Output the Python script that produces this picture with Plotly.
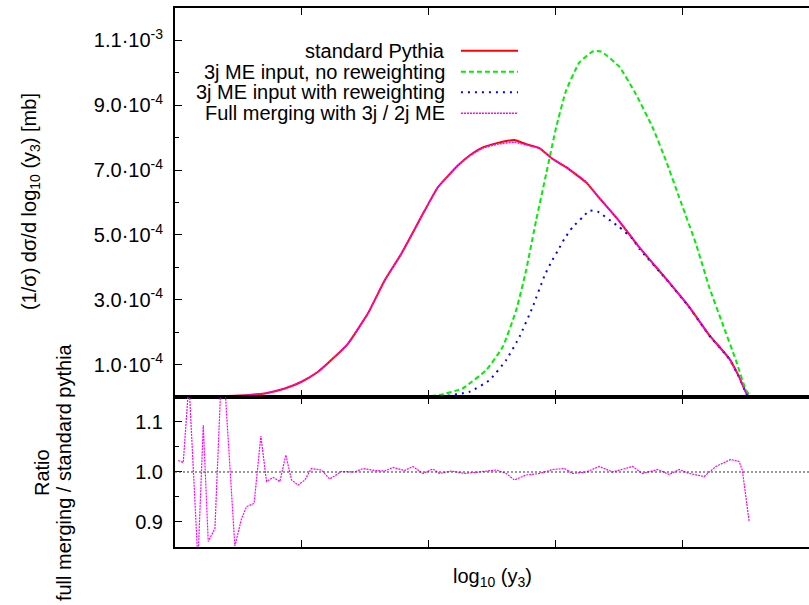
import numpy as np
import plotly.graph_objects as go
from plotly.subplots import make_subplots

# log10(y3) positions and differential cross sections (in units of 1e-4 mb)
red_x = [-5.0, -4.80, -4.528, -4.291, -4.134, -4.002, -3.872, -3.740, -3.635, -3.478,
         -3.346, -3.215, -3.031, -2.927, -2.769, -2.677, -2.572, -2.454, -2.323, -2.231,
         -2.126, -2.021, -1.916, -1.758, -1.654, -1.496, -1.339, -1.128, -0.945, -0.787,
         -0.630, -0.551, -0.486, -0.433, 0.0]
red_y = [0, 0.01, 0.04, 0.11, 0.26, 0.47, 0.78, 1.24, 1.65, 2.58,
         3.60, 4.42, 5.75, 6.47, 7.14, 7.45, 7.70, 7.84, 7.93, 7.80,
         7.68, 7.34, 7.09, 6.62, 6.14, 5.42, 4.62, 3.65, 2.78, 1.91,
         1.19, 0.62, 0.06, 0, 0]

merge_y = [0, 0.01, 0.04, 0.11, 0.26, 0.47, 0.78, 1.24, 1.65, 2.58,
           3.60, 4.42, 5.75, 6.47, 7.14, 7.44, 7.68, 7.80, 7.86, 7.78,
           7.67, 7.34, 7.10, 6.64, 6.15, 5.43, 4.62, 3.65, 2.78, 1.91,
           1.19, 0.62, 0.06, 0, 0]

green_x = [-5.0, -3.386, -3.071, -2.913, -2.730, -2.546, -2.415, -2.309, -2.231, -2.152,
           -2.073, -1.994, -1.916, -1.811, -1.706, -1.640, -1.496, -1.365, -1.234, -1.128,
           -1.024, -0.892, -0.787, -0.683, -0.577, -0.498, -0.459, -0.394, 0.0]
green_y = [0, 0, 0.0, 0.06, 0.27, 0.83, 1.55, 2.68, 3.91, 5.45,
           6.88, 8.32, 9.45, 10.32, 10.66, 10.66, 10.19, 9.34, 8.32, 7.29,
           6.16, 4.73, 3.39, 2.27, 1.14, 0.22, 0.03, 0, 0]

blue_x = [-5.0, -3.071, -2.913, -2.677, -2.520, -2.388, -2.283, -2.179, -2.085, -2.033,
          -1.980, -1.929, -1.864, -1.785, -1.732, -1.667, -1.549, -1.496, -1.391, -1.339,
          -1.128, -0.945, -0.787, -0.630, -0.551, -0.486, -0.433, 0.0]
blue_y = [0, 0, 0.01, 0.16, 0.52, 1.14, 1.86, 2.78, 3.75, 4.16,
          4.52, 4.88, 5.24, 5.55, 5.75, 5.72, 5.39, 5.24, 4.88, 4.58,
          3.64, 2.77, 1.90, 1.18, 0.61, 0.05, 0, 0]

# ratio full merging / standard pythia
ratio_x = [-4.974, -4.935, -4.890, -4.819, -4.777, -4.738, -4.685, -4.626, -4.528, -4.475,
           -4.435, -4.376, -4.323, -4.278, -4.226, -4.173, -4.126, -4.081, -4.029, -3.976,
           -3.924, -3.845, -3.780, -3.687, -3.583, -3.517, -3.425, -3.346, -3.281, -3.189,
           -3.124, -3.045, -2.966, -2.913, -2.821, -2.717, -2.638, -2.467, -2.388, -2.323,
           -2.231, -2.126, -2.021, -1.929, -1.864, -1.758, -1.654, -1.549, -1.391, -1.313,
           -1.194, -1.102, -1.024, -0.945, -0.827, -0.735, -0.617, -0.551, -0.526, -0.472]
ratio_y = [1.023, 1.019, 1.18, 0.82, 1.094, 0.861, 0.887, 1.25, 0.852, 0.907,
           0.931, 0.937, 1.072, 0.981, 0.989, 0.981, 1.034, 0.984, 0.974, 0.984,
           1.007, 1.004, 0.986, 1.001, 1.000, 1.007, 1.003, 1.002, 1.009, 1.003,
           1.011, 0.997, 1.006, 0.997, 1.002, 0.997, 0.999, 1.004, 0.997, 0.984,
           0.994, 0.997, 1.005, 1.007, 0.997, 1.000, 1.011, 1.000, 1.011, 0.997,
           1.005, 0.995, 1.005, 0.997, 0.991, 1.011, 1.025, 1.021, 1.004, 0.901]

names = ["standard Pythia", "3j ME input, no reweighting",
         "3j ME input with reweighting", "Full merging with 3j / 2j ME"]
colors = ["#ff0000", "#00ee00", "#0000ff", "#ff00ff"]
dashes = ["solid", "5px,3px", "2px,5px", "2px,1px"]
widths = [2, 2, 2, 1.5]

ytick_vals = [1e-4, 3e-4, 5e-4, 7e-4, 9e-4, 1.1e-3]
ytick_text = ["1.0·10<sup>-4</sup>", "3.0·10<sup>-4</sup>", "5.0·10<sup>-4</sup>",
              "7.0·10<sup>-4</sup>", "9.0·10<sup>-4</sup>", "1.1·10<sup>-3</sup>"]
yminor_vals = [2e-4, 4e-4, 6e-4, 8e-4, 1e-3]
rtick_vals = [0.9, 1.0, 1.1]
rtick_text = ["0.9", "1.0", "1.1"]
rminor_vals = [0.95, 1.05]

font = "Liberation Sans, Arial, sans-serif"

fig = make_subplots(rows=2, cols=1, shared_xaxes=True, vertical_spacing=0)

series = [(red_x, red_y), (green_x, green_y), (blue_x, blue_y), (red_x, merge_y)]
for (xs, ys), nm, c, d, w in zip(series, names, colors, dashes, widths):
    fig.add_trace(go.Scatter(x=xs, y=np.array(ys) * 1e-4, mode="lines", name=nm,
                             line=dict(color=c, dash=d, width=w, shape="spline",
                                       smoothing=0.4)), row=1, col=1)

fig.add_trace(go.Scatter(x=ratio_x, y=ratio_y, mode="lines", name="ratio",
                         line=dict(color="#ff00ff", dash="2px,1px", width=1.2)),
              row=2, col=1)

fig.add_shape(type="line", xref="x2", yref="y2", x0=-5, x1=0, y0=1, y1=1,
              line=dict(color="#333333", width=1, dash="2px,2px"))

axis_common = dict(showgrid=False, zeroline=False, showline=True, linecolor="black",
                   linewidth=2, ticks="inside", tickcolor="black")

fig.update_xaxes(range=[-5, 0], tick0=0, dtick=1, ticklen=7, showticklabels=False,
                 mirror="ticks", **axis_common)
fig.update_yaxes(range=[0, 1.2e-3], tickvals=ytick_vals, ticktext=ytick_text, ticklen=7,
                 ticklabelstandoff=6,
                 minor=dict(tickvals=yminor_vals, ticklen=4, ticks="inside",
                            tickcolor="black"),
                 row=1, col=1, **axis_common)
fig.update_yaxes(range=[0.85, 1.15], tickvals=rtick_vals, ticktext=rtick_text, ticklen=7,
                 ticklabelstandoff=6,
                 minor=dict(tickvals=rminor_vals, ticklen=4, ticks="inside",
                            tickcolor="black"),
                 row=2, col=1, **axis_common)

# right-hand ticks only (the frame is cut at the right edge in the original)
right_common = dict(side="right", showgrid=False, zeroline=False, showline=False,
                    ticks="inside", tickcolor="black", ticklen=7, showticklabels=False)
fig.update_layout(
    yaxis3=dict(overlaying="y", anchor="x", range=[0, 1.2e-3], tickvals=ytick_vals,
                minor=dict(tickvals=yminor_vals, ticklen=4, ticks="inside",
                           tickcolor="black"), **right_common),
    yaxis4=dict(overlaying="y2", anchor="x2", range=[0.85, 1.15], tickvals=rtick_vals,
                minor=dict(tickvals=rminor_vals, ticklen=4, ticks="inside",
                           tickcolor="black"), **right_common),
)

fig.update_layout(
    width=809, height=605,
    margin=dict(l=175, r=0, t=8, b=58),
    plot_bgcolor="white", paper_bgcolor="white",
    showlegend=False,
    font=dict(family=font, size=20, color="black"),
    yaxis=dict(domain=[0.2783, 1.0]),
    yaxis2=dict(domain=[0.0, 0.2783]),
)

# axis titles
fig.add_annotation(text="(1/σ) dσ/d log<sub>10</sub> (y<sub>3</sub>) [mb]",
                   xref="paper", yref="paper", x=-0.2287, y=0.640, textangle=-90,
                   showarrow=False, xanchor="center", yanchor="middle")
fig.add_annotation(text="Ratio", xref="paper", yref="paper", x=-0.2098, y=0.139,
                   textangle=-90, showarrow=False, xanchor="center", yanchor="middle")
fig.add_annotation(text="full merging / standard pythia", xref="paper", yref="paper",
                   x=-0.1751, y=0.139, textangle=-90, showarrow=False,
                   xanchor="center", yanchor="middle")
fig.add_annotation(text="log<sub>10</sub> (y<sub>3</sub>)", xref="paper", yref="paper",
                   x=0.5, y=-0.0557, showarrow=False, xanchor="center", yanchor="middle")

# legend, gnuplot style (text left, sample right)
leg_y = [0.9208, 0.8818, 0.8436, 0.8046]
for nm, c, d, w, ly in zip(names, colors, dashes, widths, leg_y):
    fig.add_annotation(text=nm, xref="paper", yref="paper", x=0.429, y=ly,
                       showarrow=False, xanchor="right", yanchor="middle")
    fig.add_shape(type="line", xref="paper", yref="paper", x0=0.451, x1=0.541,
                  y0=ly, y1=ly, line=dict(color=c, dash=d, width=w))

fig.write_html("out.html", config={"displayModeBar": False},
               post_script="document.body.style.margin='0px';"
                           "document.body.style.overflow='hidden';")
